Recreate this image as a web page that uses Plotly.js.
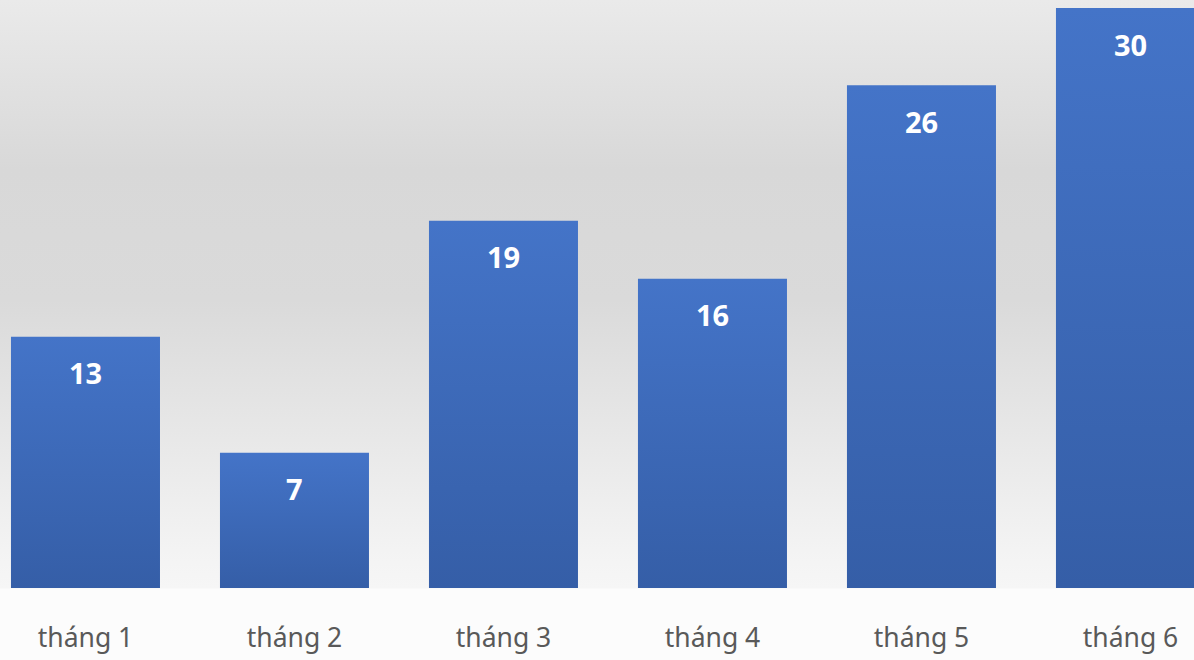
<!DOCTYPE html>
<html>
<head>
<meta charset="utf-8">
<script src="https://cdn.plot.ly/plotly-3.0.1.min.js"></script>
<style>
  html, body { margin: 0; padding: 0; }
  #chart {
    width: 1194px; height: 660px;
    background: linear-gradient(to bottom,
      #eaeaea 0px, #d8d8d8 170px, #dadada 300px, #e6e6e6 420px,
      #f3f3f3 550px, #f6f6f6 588px, #fcfcfc 589px, #fcfcfc 660px);
  }
</style>
</head>
<body>
<div id="chart"></div>
<script>
const categories = ["tháng 1", "tháng 2", "tháng 3", "tháng 4", "tháng 5", "tháng 6"];
const values = [13, 7, 19, 16, 26, 30];

const trace = {
  type: "bar",
  x: categories,
  y: values,
  width: 0.713,
  marker: { color: "#3e6bbb", line: { width: 0 } },
  hoverinfo: "x+y"
};

const annotations = categories.map((c, i) => ({
  x: c, y: values[i], xref: "x", yref: "y",
  text: String(values[i]),
  showarrow: false,
  yanchor: "middle",
  yshift: -36,
  font: { family: "Noto Sans, sans-serif", size: 29, color: "#ffffff", weight: "bold" }
}));

const layout = {
  width: 1194, height: 660,
  margin: { l: 0, r: 0, t: 8, b: 72 },
  paper_bgcolor: "rgba(0,0,0,0)",
  plot_bgcolor: "rgba(0,0,0,0)",
  showlegend: false,
  bargap: 0.287,
  xaxis: {
    type: "category",
    range: [-0.409, 5.304],
    showgrid: false, zeroline: false, showline: false,
    ticks: "",
    ticklabelstandoff: 31,
    tickfont: { family: "Noto Sans, sans-serif", size: 26.5, color: "#595959" }
  },
  yaxis: {
    range: [0, 30],
    showgrid: false, zeroline: false, showline: false,
    showticklabels: false, ticks: ""
  },
  annotations: annotations
};

Plotly.newPlot("chart", [trace], layout, { displayModeBar: false, staticPlot: true }).then(gd => {
  const svg = gd.querySelector("svg.main-svg");
  const ns = "http://www.w3.org/2000/svg";
  let defs = svg.querySelector("defs");
  if (!defs) { defs = document.createElementNS(ns, "defs"); svg.insertBefore(defs, svg.firstChild); }
  const grad = document.createElementNS(ns, "linearGradient");
  grad.setAttribute("id", "barGrad");
  grad.setAttribute("x1", "0"); grad.setAttribute("y1", "0");
  grad.setAttribute("x2", "0"); grad.setAttribute("y2", "1");
  [["0%", "#4474c8"], ["100%", "#355ea7"]].forEach(([o, c]) => {
    const s = document.createElementNS(ns, "stop");
    s.setAttribute("offset", o); s.setAttribute("stop-color", c);
    grad.appendChild(s);
  });
  defs.appendChild(grad);
  gd.querySelectorAll(".bars .point path").forEach(p => { p.style.fill = "url(#barGrad)"; });
});
</script>
</body>
</html>
